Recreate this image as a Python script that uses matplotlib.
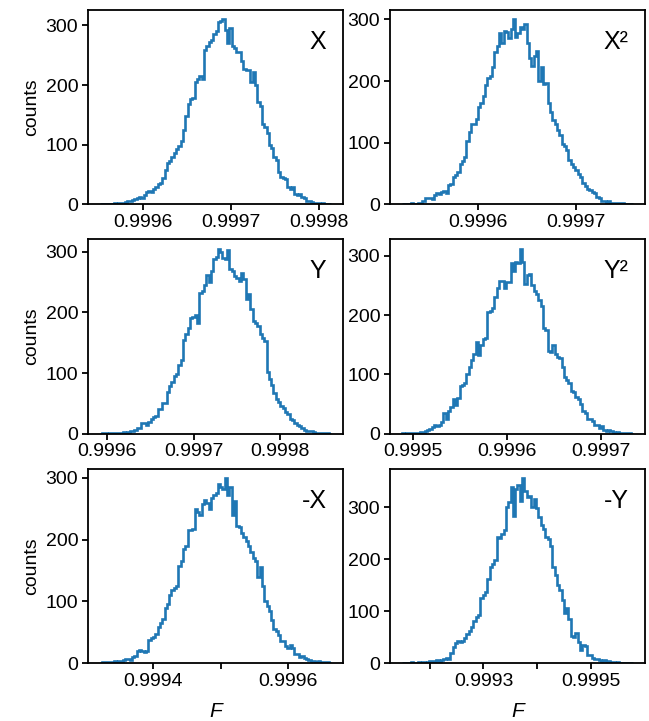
import numpy as np
import matplotlib
matplotlib.use("Agg")
import matplotlib.pyplot as plt

plt.rcParams['font.family'] = ['Liberation Sans', 'DejaVu Sans']
plt.rcParams['font.size'] = 14

# panel labels and histogram ranges (F values)
labels = ['X', 'X²', 'Y', 'Y²', '-X', '-Y']
lo = [0.999551, 0.999523, 0.999591, 0.999488, 0.999321, 0.999148]
hi = [0.999814, 0.999758, 0.999860, 0.999734, 0.999664, 0.999578]

# counts per bin (100 bins each)
counts_x = [0, 0, 1, 0, 1, 1, 2, 1, 2, 3, 3, 4, 5, 6, 8, 9, 10, 12, 11, 16,
            20, 22, 21, 26, 30, 35, 36, 45, 58, 70, 72, 80, 86, 92, 98, 107, 124, 148, 168, 176,
            178, 205, 210, 215, 210, 258, 265, 272, 275, 285, 290, 305, 308, 310, 292, 270, 295, 265, 262, 256,
            255, 240, 226, 225, 225, 205, 222, 200, 172, 165, 135, 130, 120, 100, 95, 80, 74, 55, 46, 45,
            42, 30, 25, 30, 18, 15, 17, 12, 10, 6, 5, 4, 3, 2, 3, 1, 2, 1, 1, 1]
counts_x2 = [0, 1, 1, 0, 2, 1, 1, 2, 3, 5, 10, 11, 10, 8, 15, 18, 17, 20, 22, 19,
             31, 33, 45, 48, 52, 66, 70, 77, 103, 118, 131, 130, 139, 158, 165, 175, 193, 205, 208, 222,
             247, 257, 278, 262, 281, 280, 270, 285, 300, 272, 278, 287, 285, 292, 262, 238, 225, 240, 248, 200,
             222, 195, 197, 165, 150, 137, 130, 120, 112, 98, 95, 88, 72, 65, 60, 55, 50, 45, 35, 30,
             25, 24, 20, 18, 12, 10, 6, 5, 4, 5, 3, 3, 2, 3, 2, 2, 1, 1, 1, 0]
counts_y = [0, 1, 1, 0, 1, 2, 1, 2, 1, 2, 3, 2, 3, 5, 4, 6, 10, 9, 18, 17,
            14, 19, 25, 28, 30, 40, 41, 50, 51, 68, 78, 85, 95, 98, 114, 122, 155, 165, 175, 190,
            193, 195, 182, 232, 236, 245, 262, 250, 268, 288, 292, 305, 300, 290, 288, 303, 272, 268, 260, 257,
            252, 265, 255, 222, 230, 205, 185, 183, 178, 165, 158, 152, 102, 90, 80, 67, 58, 52, 45, 42,
            35, 33, 25, 22, 18, 15, 12, 10, 6, 5, 4, 5, 3, 2, 2, 1, 2, 1, 1, 0]
counts_y2 = [1, 0, 2, 1, 1, 2, 2, 1, 3, 3, 5, 6, 8, 12, 14, 13, 15, 20, 35, 25,
             38, 45, 58, 48, 60, 80, 82, 86, 100, 113, 125, 135, 155, 133, 150, 160, 162, 205, 207, 212,
             230, 245, 258, 257, 246, 256, 255, 288, 275, 290, 288, 312, 290, 252, 268, 270, 250, 240, 236, 225,
             215, 178, 175, 140, 138, 150, 135, 130, 128, 112, 95, 90, 85, 72, 70, 62, 58, 50, 38, 35,
             25, 24, 22, 15, 15, 10, 13, 7, 5, 6, 4, 3, 2, 3, 2, 1, 2, 1, 1, 0]
counts_mx = [0, 1, 1, 2, 1, 2, 3, 2, 3, 4, 5, 6, 6, 5, 10, 11, 20, 21, 19, 18,
             20, 38, 40, 43, 47, 58, 65, 72, 90, 95, 110, 118, 122, 125, 158, 165, 185, 190, 216, 215,
             218, 250, 245, 240, 258, 265, 260, 250, 268, 272, 276, 290, 286, 282, 300, 272, 285, 240, 262, 222,
             221, 210, 205, 198, 190, 180, 170, 165, 140, 155, 125, 100, 92, 85, 70, 55, 52, 45, 35, 36,
             28, 25, 30, 24, 15, 14, 10, 11, 8, 6, 5, 4, 3, 2, 3, 1, 2, 1, 1, 0]
counts_my = [0, 1, 1, 1, 2, 1, 1, 2, 1, 2, 1, 2, 3, 3, 4, 5, 4, 6, 7, 10,
             8, 20, 30, 38, 42, 40, 42, 48, 55, 62, 70, 80, 88, 92, 125, 130, 137, 162, 185, 190,
             198, 243, 240, 248, 256, 301, 310, 338, 282, 335, 342, 312, 356, 330, 320, 322, 300, 315, 298, 280,
             265, 258, 242, 238, 225, 185, 170, 150, 140, 122, 96, 105, 85, 52, 50, 57, 40, 26, 35, 32,
             16, 15, 9, 8, 7, 5, 4, 5, 3, 3, 2, 2, 1, 2, 1, 1, 1, 0, 1, 0]
all_counts = [counts_x, counts_x2, counts_y, counts_y2, counts_mx, counts_my]

# tick positions and labels
xticks = [[0.9996, 0.9997, 0.9998], [0.9996, 0.9997], [0.9996, 0.9997, 0.9998],
          [0.9995, 0.9996, 0.9997], [0.9994, 0.9995, 0.9996], [0.9992, 0.9993, 0.9994, 0.9995]]
xticklabels = [['0.9996', '0.9997', '0.9998'], ['0.9996', '0.9997'], ['0.9996', '0.9997', '0.9998'],
               ['0.9995', '0.9996', '0.9997'], ['0.9994', '', '0.9996'], ['', '0.9993', '', '0.9995']]
yticks = [0, 100, 200, 300]

fig, axes = plt.subplots(3, 2, figsize=(6.49, 7.21), dpi=100)
fig.subplots_adjust(left=0.1356, right=0.9938, bottom=0.0804, top=0.986,
                    wspace=0.184, hspace=0.18)

for k, ax in enumerate(axes.flat):
    c = np.array(all_counts[k])
    edges = np.linspace(lo[k], hi[k], len(c) + 1)
    ax.stairs(c, edges, color='#1f77b4', linewidth=1.9)
    ax.set_xticks(xticks[k])
    ax.set_xticklabels(xticklabels[k])
    ax.set_yticks(yticks)
    for s in ax.spines.values():
        s.set_linewidth(1.3)
    ax.tick_params(width=1.3, length=4, labelsize=14, pad=3)
    ax.text(0.935, 0.835, labels[k], transform=ax.transAxes, ha='right', va='center',
            fontsize=18)
    if k % 2 == 0:
        ax.set_ylabel('counts', fontsize=14)
    if k >= 4:
        ax.set_xlabel('F', fontsize=15, fontstyle='italic', labelpad=9)

fig.savefig('out.png', dpi=100)
